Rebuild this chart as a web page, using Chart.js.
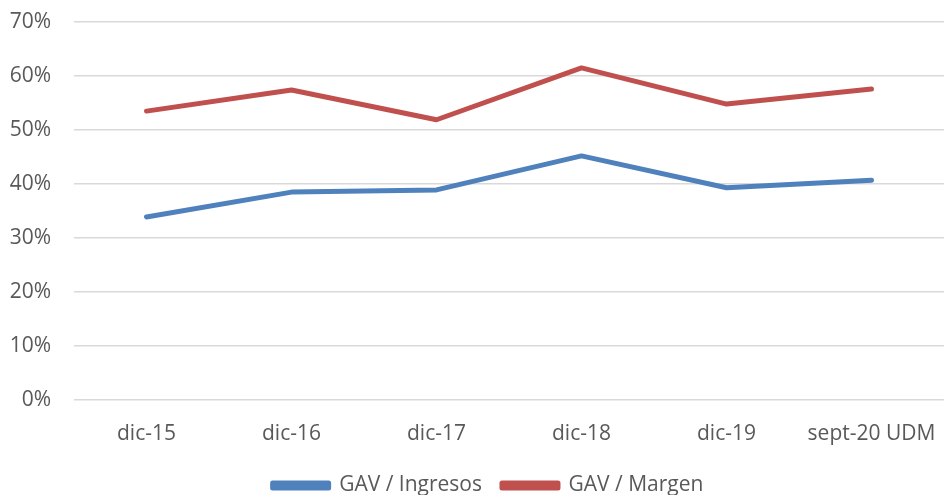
<!DOCTYPE html>
<html>
<head>
<meta charset="utf-8">
<script src="https://cdn.jsdelivr.net/npm/chart.js@4"></script>
<style>
  html, body { margin: 0; padding: 0; background: #ffffff; }
  #wrap { width: 944px; height: 495px; }
</style>
</head>
<body>
<div id="wrap"><canvas id="myChart" width="944" height="495"></canvas></div>
<script>
// data
const categories = ['dic-15', 'dic-16', 'dic-17', 'dic-18', 'dic-19', 'sept-20 UDM'];
const gavIngresos = [33.9, 38.5, 38.9, 45.2, 39.3, 40.7];
const gavMargen = [53.5, 57.4, 51.9, 61.5, 54.8, 57.6];
const yTicks = [0, 10, 20, 30, 40, 50, 60, 70];

Chart.defaults.font.family = "'Open Sans', sans-serif";
Chart.defaults.color = '#595959';

// nudge the legend a bit to the right, like the original
const legendShift = {
    id: 'legendShift',
    afterLayout(chart) {
        if (chart.legend) {
            chart.legend.left += 16;
            chart.legend.right += 16;
        }
    }
};

const ctx = document.getElementById('myChart').getContext('2d');

new Chart(ctx, {
    type: 'line',
    data: {
        labels: categories,
        datasets: [
            {
                label: 'GAV / Ingresos',
                data: gavIngresos,
                borderColor: '#4f81bd',
                backgroundColor: '#4f81bd',
                borderWidth: 5,
                pointRadius: 0,
                borderCapStyle: 'round',
                borderJoinStyle: 'round',
                tension: 0
            },
            {
                label: 'GAV / Margen',
                data: gavMargen,
                borderColor: '#c0504d',
                backgroundColor: '#c0504d',
                borderWidth: 5,
                pointRadius: 0,
                borderCapStyle: 'round',
                borderJoinStyle: 'round',
                tension: 0
            }
        ]
    },
    plugins: [legendShift],
    options: {
        responsive: false,
        animation: false,
        layout: { padding: { top: 22, right: 0, bottom: -11, left: 0 } },
        plugins: {
            tooltip: { enabled: false },
            legend: {
                position: 'bottom',
                labels: {
                    boxWidth: 56,
                    boxHeight: 5,
                    padding: 20,
                    font: { size: 21 },
                    color: '#595959'
                }
            }
        },
        scales: {
            x: {
                offset: true,
                grid: { display: false },
                border: { display: false },
                ticks: { padding: 13, font: { size: 21 }, color: '#595959', maxRotation: 0 },
                afterFit: (scale) => {
                    scale.height = 55;
                    scale.paddingLeft = 0;
                    scale.paddingRight = 0;
                }
            },
            y: {
                min: 0,
                max: 70,
                afterBuildTicks: (scale) => { scale.ticks = yTicks.map(v => ({ value: v })); },
                grid: { color: '#d9d9d9', lineWidth: 1.5, drawTicks: false },
                border: { display: false },
                ticks: {
                    padding: 23,
                    font: { size: 21 },
                    color: '#595959',
                    callback: (v) => v + '%'
                },
                afterFit: (scale) => {
                    scale.width = 74;
                    scale.paddingTop = 0;
                    scale.paddingBottom = 0;
                }
            }
        }
    }
});
</script>
</body>
</html>
